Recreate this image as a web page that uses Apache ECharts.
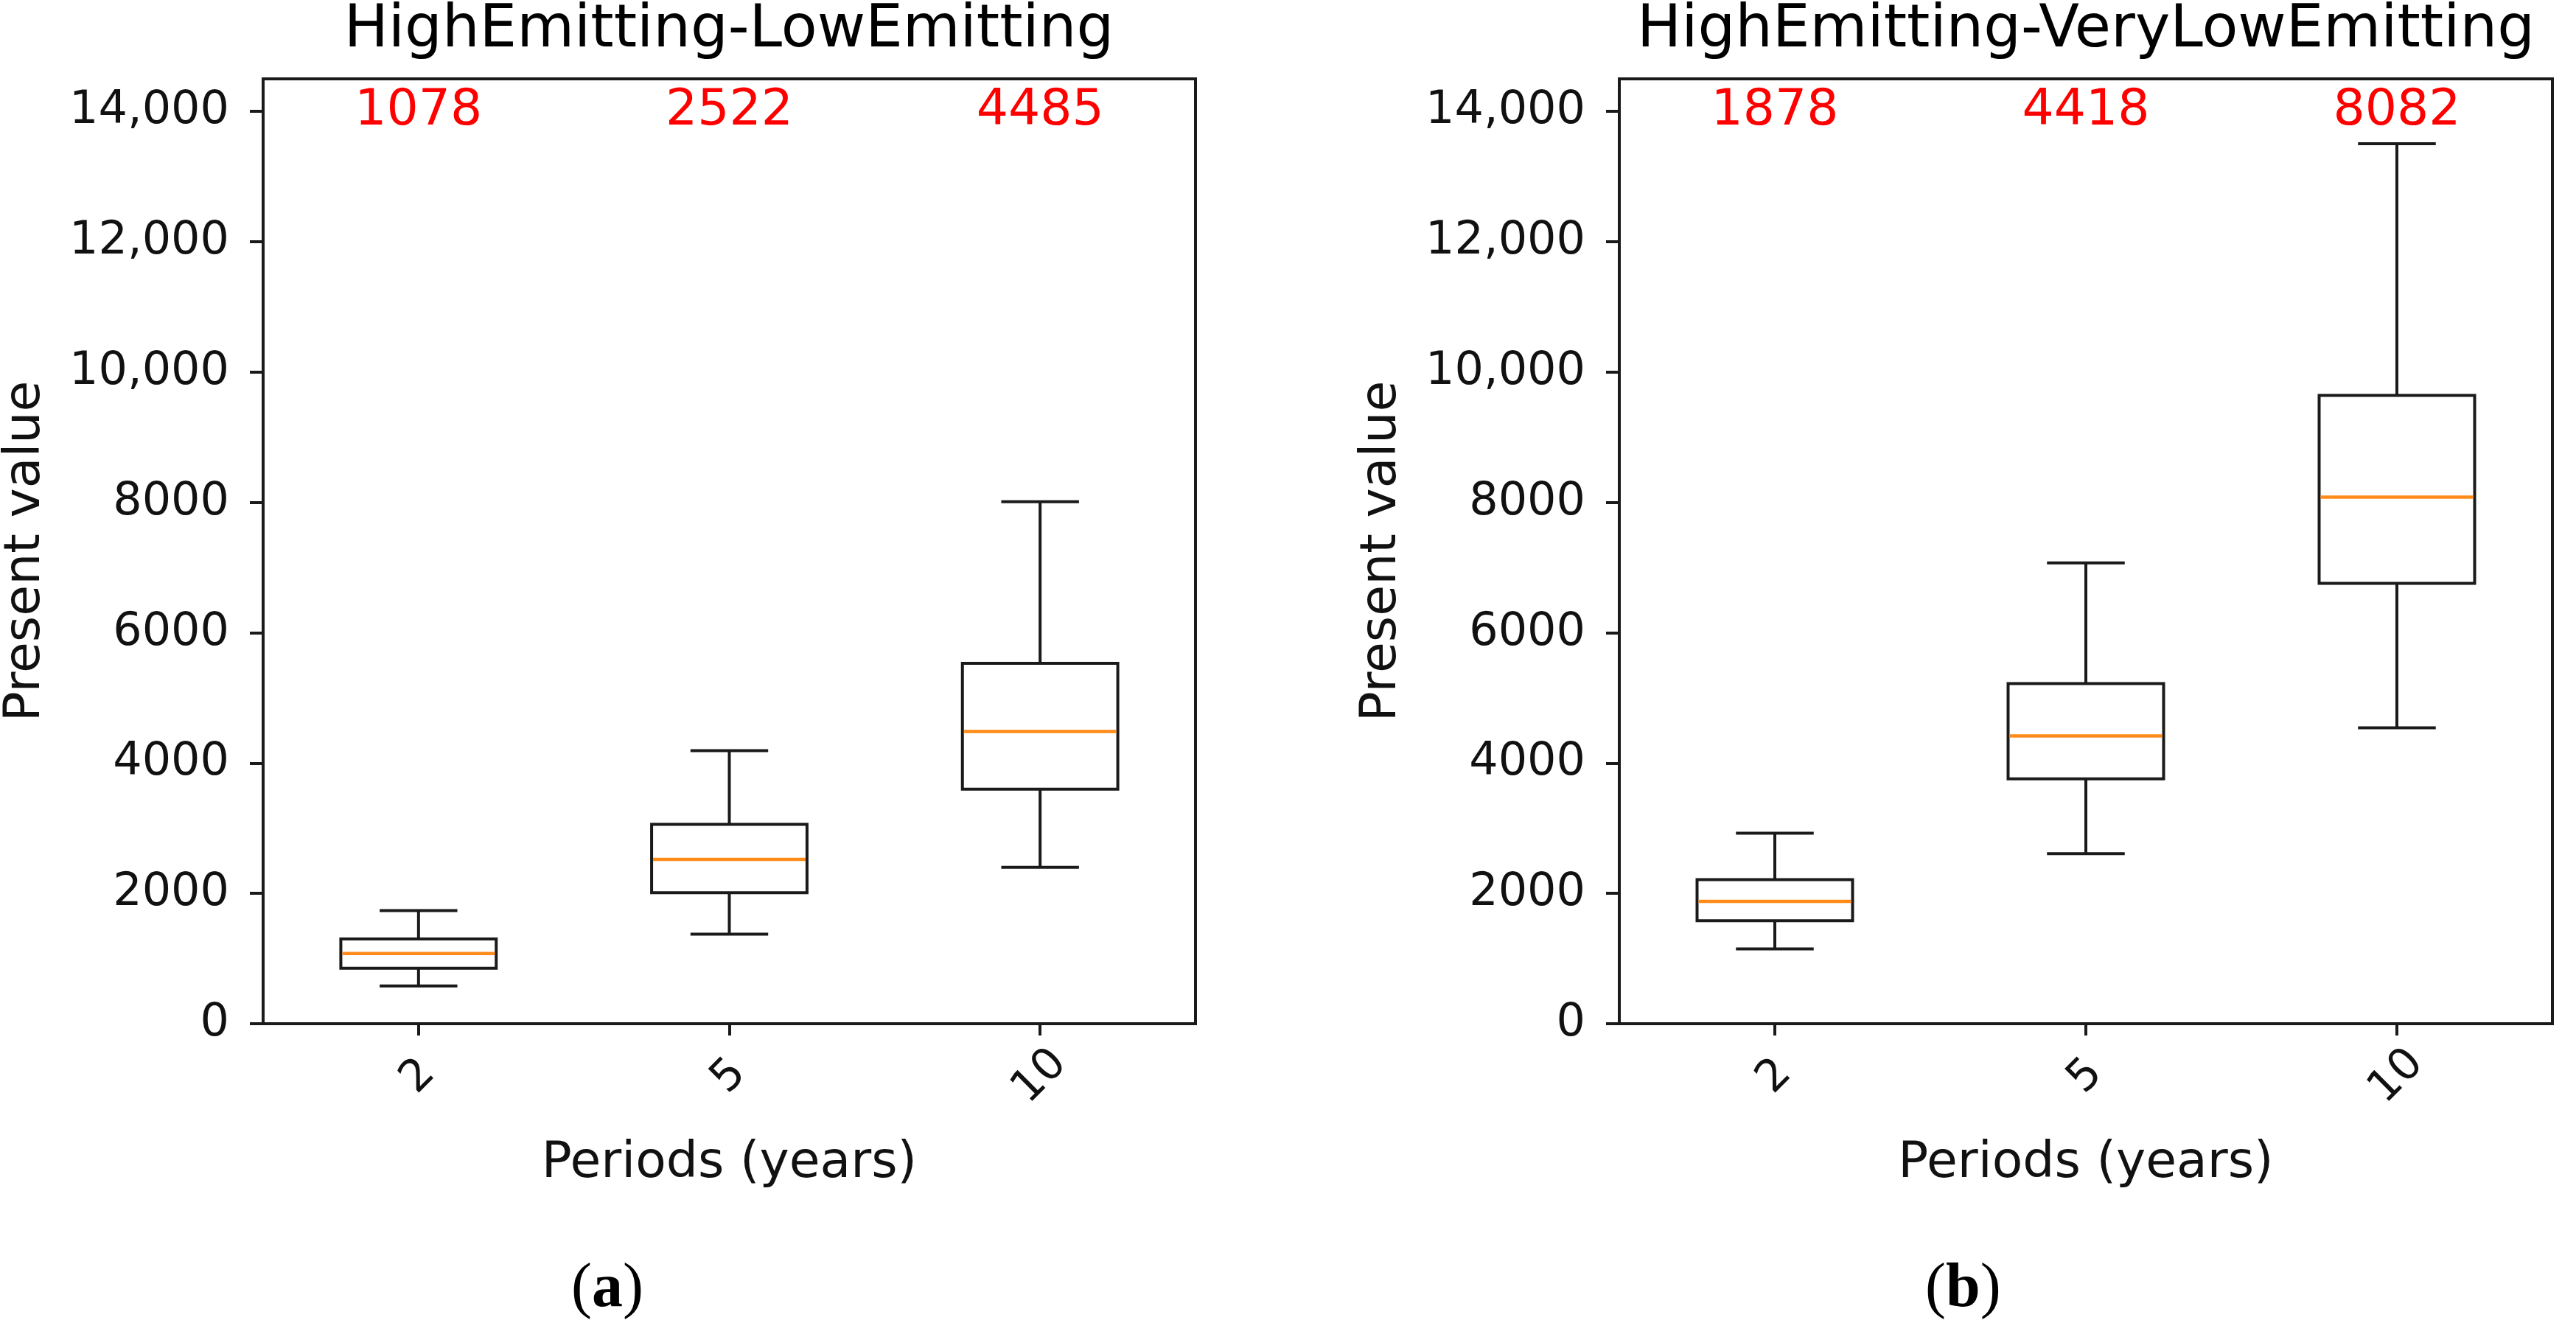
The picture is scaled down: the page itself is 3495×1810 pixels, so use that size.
<!DOCTYPE html>
<html>
<head>
<meta charset="utf-8">
<script src="https://cdn.jsdelivr.net/npm/echarts@6/dist/echarts.min.js"></script>
<style>
html,body{margin:0;padding:0;background:#fff;}
#chart{width:3495px;height:1810px;}
</style>
</head>
<body>
<div id="chart"></div>
<script>
// ---- data ----
const categories = ['2', '5', '10'];

const titleA = 'HighEmitting-LowEmitting';
const lowA    = [580, 1375, 2400];
const q1A     = [850, 2010, 3600];
const medianA = [1078, 2522, 4485];
const q3A     = [1300, 3060, 5530];
const highA   = [1735, 4190, 8010];

const titleB = 'HighEmitting-VeryLowEmitting';
const lowB    = [1148, 2610, 4541];
const q1B     = [1580, 3758, 6759];
const medianB = [1878, 4418, 8082];
const q3B     = [2210, 5219, 9643];
const highB   = [2925, 7072, 13505];

const yTickValues = [0, 2000, 4000, 6000, 8000, 10000, 12000, 14000];
const yTickLabels = ['0', '2000', '4000', '6000', '8000', '10,000', '12,000', '14,000'];
const yMin = 0, yMax = 14500;
const medianLabelLevel = 14000;

const xName = 'Periods (years)';
const yName = 'Present value';
const panelTags = ['a', 'b'];

// ---- chart ----
const FONT = '"DejaVu Sans", Verdana, sans-serif';
const EDGE = '#1a1a1a';

function rows(low, q1, med, q3, high) {
  return categories.map((c, i) => [i, low[i], q1[i], med[i], q3[i], high[i]]);
}

function renderBox(params, api) {
  const i = api.value(0);
  const low = api.value(1), q1 = api.value(2), med = api.value(3), q3 = api.value(4), high = api.value(5);
  const band = api.size([1, 0])[0];
  const bw = band * 0.5, cw = band * 0.25;
  const pLow = api.coord([i, low]);
  const pQ1 = api.coord([i, q1]);
  const pMed = api.coord([i, med]);
  const pQ3 = api.coord([i, q3]);
  const pHigh = api.coord([i, high]);
  const pLab = api.coord([i, medianLabelLevel]);
  const cx = pMed[0];
  const ls = {stroke: EDGE, lineWidth: 4, fill: null};
  return {
    type: 'group',
    children: [
      {type: 'line', shape: {x1: cx, y1: pQ3[1], x2: cx, y2: pHigh[1]}, style: ls},
      {type: 'line', shape: {x1: cx, y1: pQ1[1], x2: cx, y2: pLow[1]}, style: ls},
      {type: 'line', shape: {x1: cx - cw / 2, y1: pHigh[1], x2: cx + cw / 2, y2: pHigh[1]}, style: ls},
      {type: 'line', shape: {x1: cx - cw / 2, y1: pLow[1], x2: cx + cw / 2, y2: pLow[1]}, style: ls},
      {type: 'rect', shape: {x: cx - bw / 2, y: pQ3[1], width: bw, height: pQ1[1] - pQ3[1]},
       style: {stroke: EDGE, lineWidth: 4, fill: '#ffffff'}},
      {type: 'line', shape: {x1: cx - bw / 2 + 2, y1: pMed[1], x2: cx + bw / 2 - 2, y2: pMed[1]},
       style: {stroke: '#ff8c1a', lineWidth: 4.5}},
      {type: 'text', x: cx, y: pLab[1],
       style: {text: String(med), fill: '#ff0000', font: '68px ' + FONT, align: 'center', verticalAlign: 'middle'}}
    ]
  };
}

const grids = [
  {left: 356, top: 107, width: 1266, height: 1282},
  {left: 2197, top: 107, width: 1266, height: 1282}
];

function xAxis(gi) {
  return {
    type: 'category', gridIndex: gi, data: categories, boundaryGap: true,
    name: xName, nameLocation: 'middle', nameGap: 156,
    nameTextStyle: {fontFamily: FONT, fontSize: 68, color: '#111'},
    axisLine: {show: false},
    axisTick: {show: true, alignWithLabel: true, length: 16, lineStyle: {color: EDGE, width: 4}},
    axisLabel: {rotate: 45, align: 'center', verticalAlign: 'middle', margin: 72,
                fontFamily: FONT, fontSize: 60, color: '#111'},
    splitLine: {show: false}
  };
}

function yAxis(gi) {
  return {
    type: 'value', gridIndex: gi, min: yMin, max: yMax,
    name: yName, nameLocation: 'middle', nameGap: 288,
    nameTextStyle: {fontFamily: FONT, fontSize: 68, color: '#111'},
    axisLine: {show: false},
    axisTick: {show: true, length: 18, customValues: yTickValues, lineStyle: {color: EDGE, width: 4}},
    axisLabel: {customValues: yTickValues, margin: 46, fontFamily: FONT, fontSize: 62, color: '#111',
                formatter: v => yTickLabels[yTickValues.indexOf(v)]},
    splitLine: {show: false}
  };
}

function tagText(tag, cx) {
  return {
    type: 'text', left: cx - 45, top: 1708,
    style: {
      text: '{p|(}{t|' + tag + '}{p|)}',
      rich: {
        p: {fontFamily: '"Liberation Serif", "Times New Roman", serif', fontSize: 84, fill: '#000'},
        t: {fontFamily: '"Liberation Serif", "Times New Roman", serif', fontSize: 84, fontWeight: 'bold', fill: '#000'}
      }
    }
  };
}

const chart = echarts.init(document.getElementById('chart'), null, {renderer: 'canvas'});
chart.setOption({
  backgroundColor: '#ffffff',
  animation: false,
  title: [
    {text: titleA, left: 989, top: 2, textAlign: 'center', padding: 0,
     textStyle: {fontFamily: FONT, fontSize: 80, fontWeight: 'normal', color: '#000'}},
    {text: titleB, left: 2830, top: 2, textAlign: 'center', padding: 0,
     textStyle: {fontFamily: FONT, fontSize: 80, fontWeight: 'normal', color: '#000'}}
  ],
  grid: grids.map(g => Object.assign({show: true, borderColor: EDGE, borderWidth: 4, backgroundColor: 'transparent', containLabel: false}, g)),
  xAxis: [xAxis(0), xAxis(1)],
  yAxis: [yAxis(0), yAxis(1)],
  series: [
    {type: 'custom', xAxisIndex: 0, yAxisIndex: 0, renderItem: renderBox,
     encode: {x: 0, y: [1, 2, 3, 4, 5]}, data: rows(lowA, q1A, medianA, q3A, highA), clip: false},
    {type: 'custom', xAxisIndex: 1, yAxisIndex: 1, renderItem: renderBox,
     encode: {x: 0, y: [1, 2, 3, 4, 5]}, data: rows(lowB, q1B, medianB, q3B, highB), clip: false}
  ],
  graphic: [tagText(panelTags[0], 820), tagText(panelTags[1], 2657)]
});
</script>
</body>
</html>
